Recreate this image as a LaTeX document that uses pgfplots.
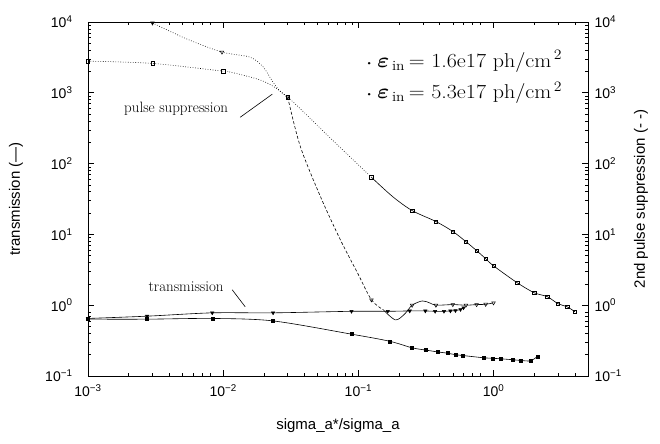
\documentclass[border=0pt]{standalone}
\usepackage{fontspec}
\usepackage{amsmath}
\usepackage{graphicx}
\usepackage{pgfplots}
\pgfplotsset{compat=1.18}
\newfontfamily\lsans{Liberation Sans}

% transmission, eps_in = 1.6e17 (filled squares)
\pgfplotstableread{
x y
0.001 0.635
0.00274 0.635
0.0083 0.65
0.0234 0.60
0.089 0.39
0.17 0.31
0.25 0.25
0.313 0.233
0.385 0.219
0.456 0.21
0.523 0.20
0.589 0.195
0.843 0.181
0.984 0.178
1.13 0.175
1.38 0.17
1.58 0.166
1.88 0.164
2.12 0.19
}\transA
% transmission, eps_in = 5.3e17 (filled triangles)
\pgfplotstableread{
x y
0.001 0.65
0.00274 0.70
0.0083 0.78
0.0234 0.78
0.089 0.82
0.165 0.82
0.24 0.83
0.313 0.83
0.37 0.82
0.43 0.82
0.48 0.83
0.523 0.84
0.57 0.87
0.60 0.92
}\transB
% pulse suppression, eps_in = 1.6e17 (open squares) -- markers
\pgfplotstableread{
x y
0.001 2800
0.003 2600
0.01 2020
0.03 870
0.125 64
0.25 21.7
0.375 15.2
0.5 11.0
0.625 7.9
0.75 5.9
0.875 4.54
1.0 3.6
1.5 2.07
2.0 1.50
2.5 1.32
3.0 1.05
3.5 0.95
4.0 0.81
}\supAmarks
% pulse suppression, eps_in = 5.3e17 (open triangles) -- markers
\pgfplotstableread{
x y
0.003 9700
0.0098 3760
0.03 870
0.125 1.19
0.25 1.0
0.375 1.0
0.5 1.02
0.625 1.0
0.75 1.02
0.875 1.03
1.0 1.08
}\supBmarks

\begin{document}
\begin{tikzpicture}
\useasboundingbox (-88bp,-68bp) rectangle (572bp,376bp);
\begin{axis}[
  xmode=log, ymode=log,
  width=500bp, height=354bp, scale only axis,
  xmin=1e-3, xmax=5, ymin=0.1, ymax=1e4,
  xtick={0.001,0.01,0.1,1},
  xticklabels={10\textsuperscript{−3},10\textsuperscript{−2},10\textsuperscript{−1},10\textsuperscript{0}},
  ytick={0.1,1,10,100,1000,10000},
  yticklabels={10\textsuperscript{−1},10\textsuperscript{0},10\textsuperscript{1},10\textsuperscript{2},10\textsuperscript{3},10\textsuperscript{4}},
  minor xtick={0.002,0.003,...,0.009,0.02,0.03,...,0.09,0.2,0.3,...,0.9,2,3,4},
  minor ytick={0.2,0.3,...,0.9,2,3,...,9,20,30,...,90,200,300,...,900,2000,3000,...,9000},
  tick align=inside,
  major tick length=6bp, minor tick length=3bp,
  axis line style={line width=0.9bp},
  every tick/.append style={black, line width=0.6bp},
  tick label style={font=\lsans\fontsize{14bp}{16bp}\selectfont},
  xticklabel style={yshift=-5bp},
  yticklabel style={xshift=-12bp},
  label style={font=\lsans\fontsize{15bp}{17bp}\selectfont},
  xlabel={sigma\_a*/sigma\_a},
  xlabel style={at={(axis description cs:0.5,-0.139)}, anchor=center},
  ylabel={transmission (—)},
  ylabel style={at={(axis description cs:-0.144,0.5)}, anchor=center},
]
% transmission curves (solid)
\addplot[black, line width=0.6bp, smooth] table {\transA};
\addplot[black, line width=0.6bp, smooth] table {\transB};
\addplot[only marks, mark=square*, mark size=1.5bp, black] table {\transA};
\addplot[only marks, mark=triangle*, mark size=2bp, black, mark options={rotate=180}] table {\transB};

% pulse suppression 1.6e17: dotted part
\addplot[black, line width=0.6bp, dash pattern=on 0.7bp off 1.8bp, smooth] coordinates {
(0.001,2800) (0.003,2600) (0.01,2020) (0.0113,1960) (0.0198,1460) (0.03,870) (0.062,230) (0.125,64)};
% pulse suppression 1.6e17: later part
\addplot[black, line width=0.6bp, smooth] coordinates {
(0.125,64) (0.18,34) (0.25,21.7) (0.375,15.2) (0.5,11.0) (0.625,7.9) (0.75,5.9) (0.875,4.54) (1.0,3.6) (1.5,2.07) (2.0,1.50) (2.5,1.32) (3.0,1.05) (3.5,0.95) (4.0,0.81)};

% pulse suppression 5.3e17: dotted part
\addplot[black, line width=0.6bp, dash pattern=on 0.7bp off 1.8bp, smooth] coordinates {
(0.003,9700) (0.0054,5740) (0.0098,3760) (0.0158,3190) (0.0198,2310) (0.0231,1460) (0.0264,1050) (0.03,870)};
% dashed steep part
\addplot[black, line width=0.6bp, dash pattern=on 3bp off 2bp, smooth] coordinates {
(0.03,870) (0.0372,175) (0.0524,34.3) (0.0736,8.4) (0.0984,2.88) (0.125,1.19) (0.153,0.86)};
% solid part
\addplot[black, line width=0.6bp, smooth] coordinates {
(0.153,0.86) (0.188,0.62) (0.22,0.75) (0.25,1.0) (0.298,1.15) (0.34,1.07) (0.375,1.0) (0.5,1.02) (0.625,1.0) (0.75,1.02) (0.875,1.03) (1.0,1.08)};

\addplot[only marks, mark=square, mark size=1.7bp, black, mark options={fill=white, line width=0.5bp}] table {\supAmarks};
\addplot[only marks, mark=triangle, mark size=2.1bp, black, mark options={rotate=180, fill=white, line width=0.5bp}] table {\supBmarks};

% annotations
\node[font=\fontsize{15bp}{17bp}\selectfont] at (axis cs:0.00449,586) {pulse suppression};
\draw[line width=0.6bp] (axis cs:0.01336,451) -- (axis cs:0.02307,955);
\node[font=\fontsize{15bp}{17bp}\selectfont] at (axis cs:0.00532,1.82) {transmission};
\draw[line width=0.6bp] (axis cs:0.01167,1.65) -- (axis cs:0.01456,0.949);

% legend
\node[anchor=west, font=\fontsize{20bp}{22bp}\selectfont, inner sep=0pt] at (axis cs:0.113,2800)
  {\scalebox{1.1}[1]{{\fontsize{8bp}{8bp}\selectfont\raisebox{2bp}{\textbullet}}\hspace{4bp}$\boldsymbol{\varepsilon}_{\,\mathrm{in}}$\,= 1.6e17 ph/cm$^{\,2}$}};
\node[anchor=west, font=\fontsize{20bp}{22bp}\selectfont, inner sep=0pt] at (axis cs:0.113,1000)
  {\scalebox{1.1}[1]{{\fontsize{8bp}{8bp}\selectfont\raisebox{2bp}{\textbullet}}\hspace{4bp}$\boldsymbol{\varepsilon}_{\,\mathrm{in}}$\,= 5.3e17 ph/cm$^{\,2}$}};
\end{axis}

\begin{axis}[
  xmode=log, ymode=log,
  width=500bp, height=354bp, scale only axis,
  xmin=1e-3, xmax=5, ymin=0.1, ymax=1e4,
  hide x axis,
  axis y line*=right,
  ytick={0.1,1,10,100,1000,10000},
  yticklabels={10\textsuperscript{−1},10\textsuperscript{0},10\textsuperscript{1},10\textsuperscript{2},10\textsuperscript{3},10\textsuperscript{4}},
  minor ytick={0.2,0.3,...,0.9,2,3,...,9,20,30,...,90,200,300,...,900,2000,3000,...,9000},
  tick align=inside,
  major tick length=6bp, minor tick length=3bp,
  axis line style={line width=0.9bp},
  every tick/.append style={black, line width=0.6bp},
  tick label style={font=\lsans\fontsize{14bp}{16bp}\selectfont},
  yticklabel style={xshift=3bp},
  label style={font=\lsans\fontsize{15bp}{17bp}\selectfont},
  ylabel={2nd pulse suppression (- -)},
  ylabel style={at={(axis description cs:1.106,0.5)}, anchor=center},
]
\addplot[draw=none] coordinates {(0.01,1)};
\end{axis}
\end{tikzpicture}
\end{document}
